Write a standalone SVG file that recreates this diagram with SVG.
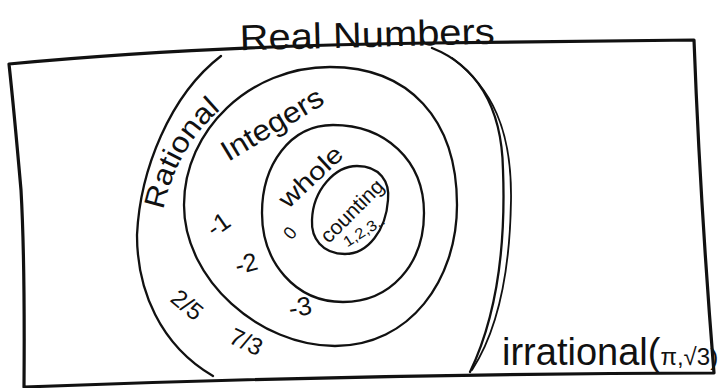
<svg xmlns="http://www.w3.org/2000/svg" width="723" height="388" viewBox="0 0 723 388">
<style>
.ink{fill:none;stroke:#111;stroke-linecap:round;stroke-linejoin:round}
.box{stroke-width:3.2}
.ring{stroke-width:2.3}
.thin{stroke-width:1.8}
text{font-family:"Liberation Sans","DejaVu Sans",sans-serif;fill:#111}
.mid{text-anchor:middle}
</style>
<defs>
  <path id="rationalPath" d="M 163 212 Q 178 136 240 95"/>
</defs>
<rect width="723" height="388" fill="#fff"/>
<g id="real-numbers">
  <path class="ink box" d="M 9 64 Q 200 46 430 43 L 694 40 Q 700 200 714 373 Q 360 374 24 387 Q 25 260 21 190 Q 14 110 9 64 Z"/>
  <text x="240" y="47" font-size="36" textLength="255" lengthAdjust="spacingAndGlyphs" transform="rotate(-1.5 367 46)">Real Numbers</text>
</g>
<g id="rational">
  <path class="ink ring" d="M 221 56 C 170 95, 140 170, 137 235 C 137 290, 160 345, 213 376"/>
  <path class="ink ring" d="M 432 48 C 475 65, 502 105, 503 170 C 506 250, 495 320, 470 372"/>
  <path class="ink thin" d="M 452 58 C 492 88, 512 130, 511 200 C 510 270, 498 330, 472 370"/>
  <text font-size="29"><textPath href="#rationalPath" startOffset="2" textLength="118" lengthAdjust="spacingAndGlyphs">Rational</textPath></text>
  <text class="mid" transform="translate(187,305) rotate(40)" y="8" font-size="24">2/5</text>
  <text class="mid" transform="translate(246,342) rotate(25)" y="8" font-size="24">7/3</text>
</g>
<g id="integers">
  <path class="ink ring" d="M 330 67 C 409 67, 457 119, 457 205 C 457 280, 410 346, 335 346 C 260 346, 184 280, 184 205 C 184 130, 250 67, 330 67 Z"/>
  <text class="mid" transform="translate(272,124) rotate(-31)" y="10" font-size="29" textLength="114" lengthAdjust="spacingAndGlyphs">Integers</text>
  <text class="mid" transform="translate(218,224) rotate(-35)" y="9" font-size="25">-1</text>
  <text class="mid" transform="translate(246,263) rotate(-15)" y="9" font-size="25">-2</text>
  <text class="mid" transform="translate(300,307) rotate(-10)" y="9" font-size="26">-3</text>
</g>
<g id="whole">
  <path class="ink ring" d="M 333 125 C 385 125, 424 160, 424 213 C 424 265, 390 302, 343 302 C 295 302, 262 262, 262 213 C 262 165, 290 125, 333 125 Z"/>
  <text class="mid" transform="translate(311,177) rotate(-43)" y="8" font-size="25" textLength="78" lengthAdjust="spacingAndGlyphs">whole</text>
  <text class="mid" transform="translate(290,233) rotate(-50)" y="6" font-size="18">0</text>
</g>
<g id="counting">
  <path class="ink ring" d="M 357 166 C 380 166, 390 182, 388 200 C 386 230, 368 254, 345 254 C 322 254, 311 238, 312 220 C 313 190, 335 166, 357 166 Z"/>
  <text class="mid" transform="translate(352,211) rotate(-45)" y="7" font-size="21" textLength="80" lengthAdjust="spacingAndGlyphs">counting</text>
  <text class="mid" transform="translate(364,231) rotate(-32)" y="5" font-size="15" textLength="46" lengthAdjust="spacingAndGlyphs">1,2,3..</text>
</g>
<g id="irrational">
  <text x="502" y="365" font-size="38">irrational(<tspan font-size="24">π,√3)</tspan></text>
</g>
<g id="connectors"></g>
</svg>
